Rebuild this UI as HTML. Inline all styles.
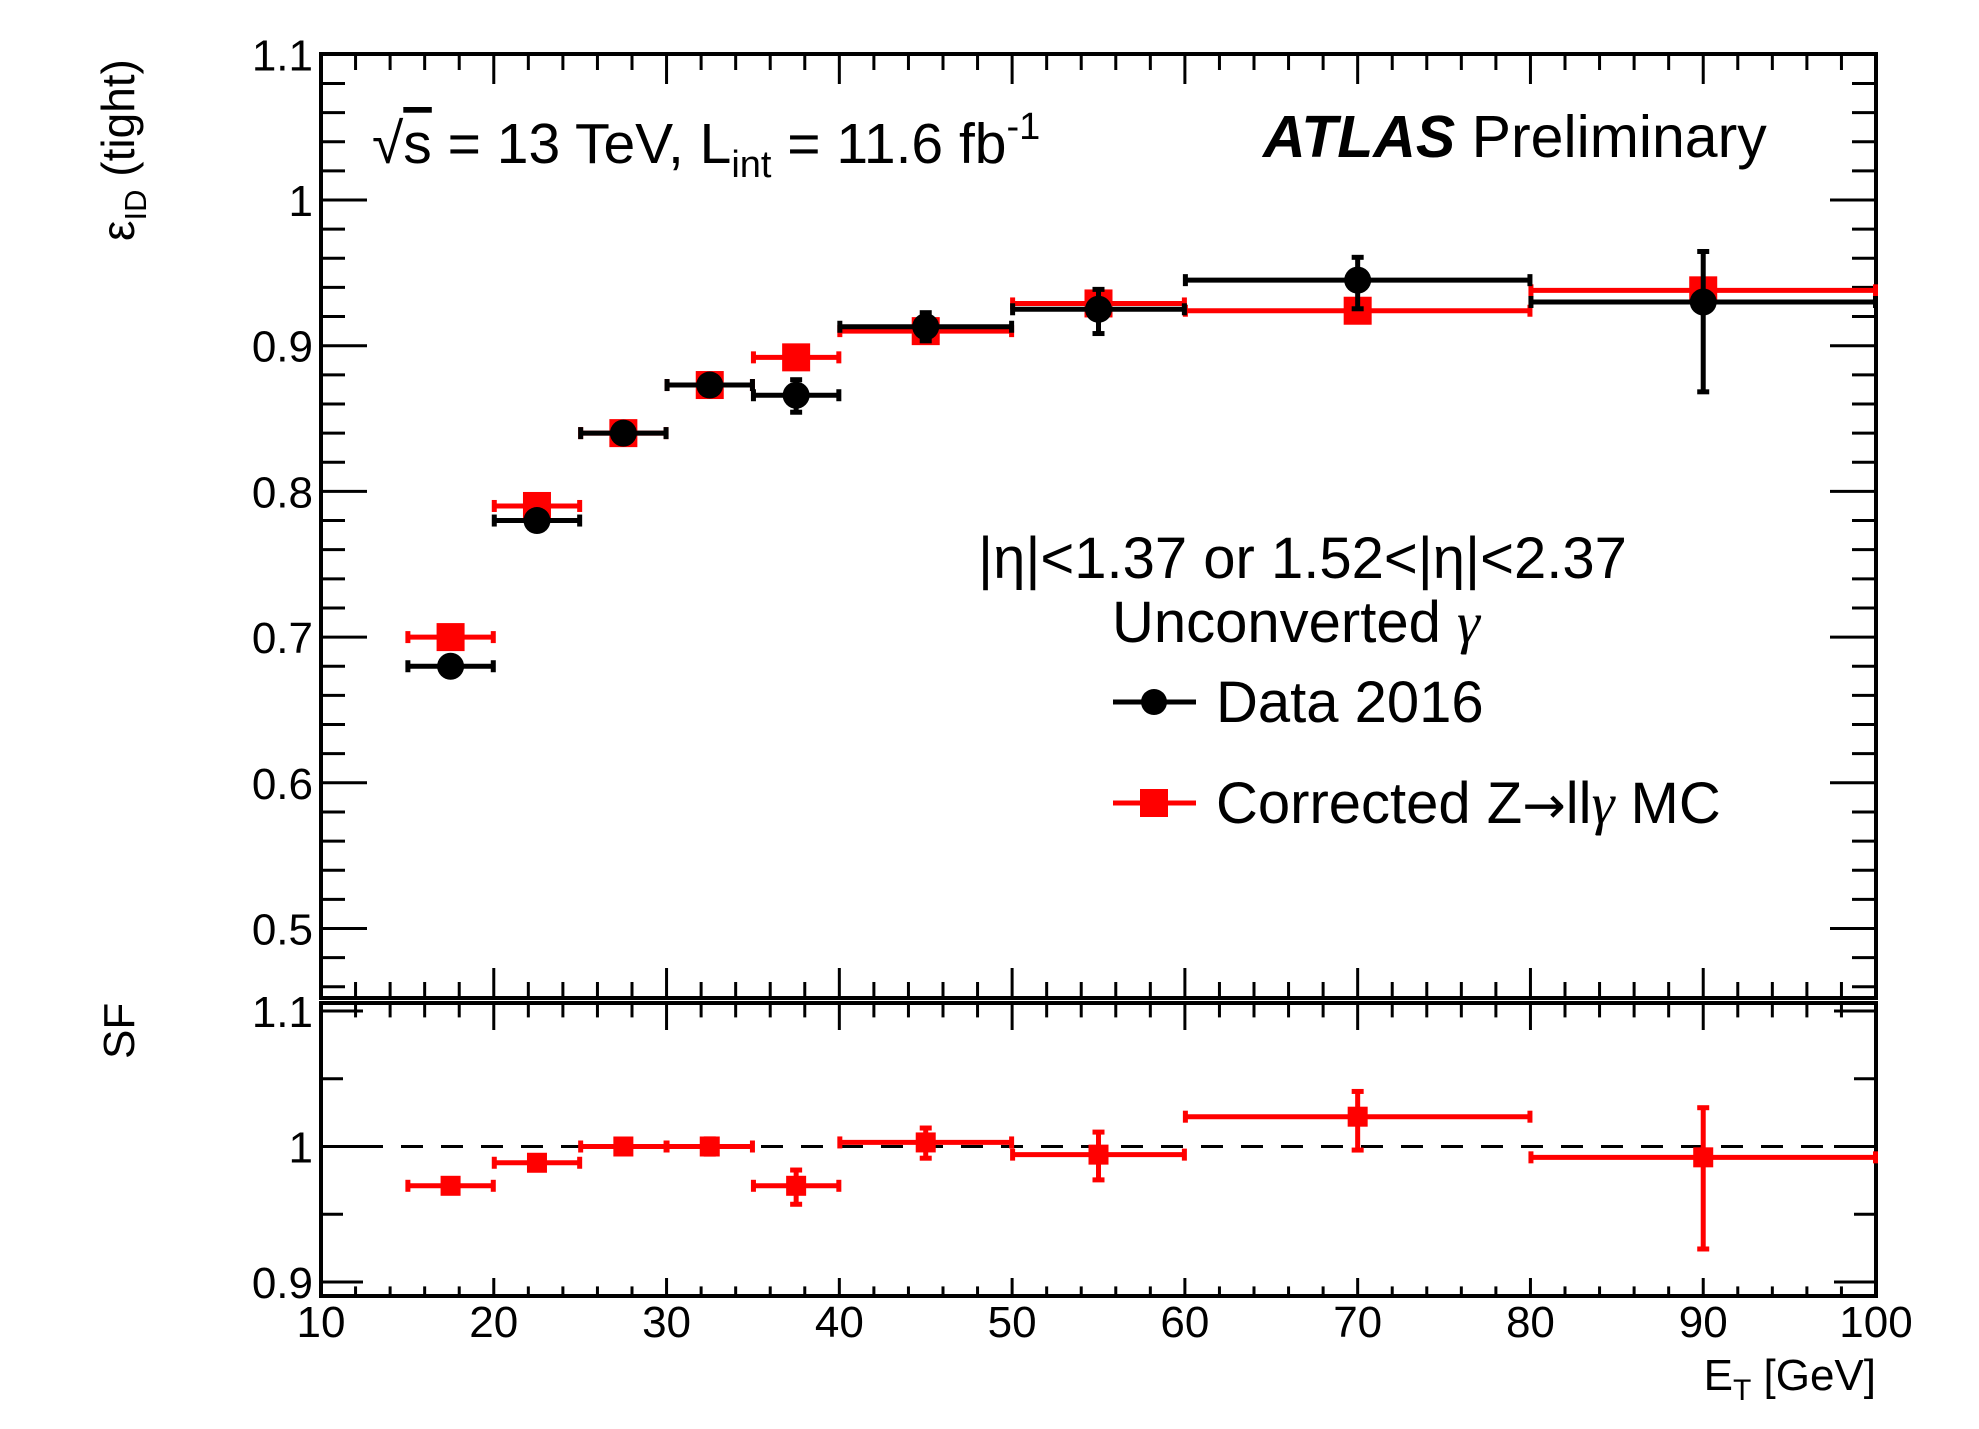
<!DOCTYPE html>
<html><head><meta charset="utf-8"><style>
html,body{margin:0;padding:0;background:#fff}
svg{display:block;font-family:"Liberation Sans",sans-serif}
</style></head><body>
<svg id="c" width="1979" height="1429" viewBox="0 0 1979 1429" xmlns="http://www.w3.org/2000/svg">
<g id="frames"></g>
<g id="marks"></g>
<g fill="#000">
<text x="372" y="163" font-size="57">√<tspan text-decoration="overline">s</tspan> = 13 TeV, L<tspan font-size="38" dy="14">int</tspan><tspan dy="-14"> = 11.6 fb</tspan><tspan font-size="38" dy="-24">-1</tspan></text>
<text x="1263" y="157" font-size="59"><tspan font-weight="bold" font-style="italic">ATLAS</tspan> Preliminary</text>
<text x="978" y="578" font-size="58">|η|&lt;1.37 or 1.52&lt;|η|&lt;2.37</text>
<text x="1112" y="642" font-size="58">Unconverted <tspan font-family="Liberation Serif" font-style="italic">γ</tspan></text>
<text x="1216" y="722" font-size="58">Data 2016</text>
<text x="1216" y="823" font-size="58">Corrected Z<tspan font-family="DejaVu Sans" font-size="52">→</tspan>l<tspan>l</tspan><tspan font-family="Liberation Serif" font-style="italic">γ</tspan> MC</text>
<text transform="translate(134,241) rotate(-90)" font-size="46">ε<tspan font-size="31" dy="12">ID</tspan><tspan dy="-12"> (tight)</tspan></text>
<text transform="translate(134,1059) rotate(-90)" font-size="44">SF</text>
<text x="1876" y="1390" font-size="44" text-anchor="end">E<tspan font-size="30" dy="10">T</tspan><tspan dy="-10"> [GeV]</tspan></text>
</g>
<g>
<line x1="1113" y1="702" x2="1196" y2="702" stroke="#000" stroke-width="5"/>
<circle cx="1154" cy="702" r="13" fill="#000"/>
<line x1="1113" y1="803" x2="1196" y2="803" stroke="#f00" stroke-width="5"/>
<rect x="1140" y="789" width="28" height="28" fill="#f00"/>
</g>
</svg>
<script>
const binLo=[15,20,25,30,35,40,50,60,80];
const binHi=[20,25,30,35,40,50,60,80,100];
const dataEff=[0.680,0.780,0.840,0.873,0.866,0.913,0.925,0.945,0.930];
const dataErrUp=[0.003,0.003,0.003,0.004,0.011,0.010,0.014,0.016,0.035];
const dataErrDn=[0.003,0.003,0.003,0.004,0.012,0.010,0.017,0.020,0.062];
const mcEff=[0.700,0.790,0.840,0.873,0.892,0.910,0.929,0.924,0.938];
const mcErr=[0.002,0.002,0.002,0.002,0.003,0.003,0.003,0.003,0.004];
const sf=[0.971,0.988,1.000,1.000,0.971,1.003,0.994,1.022,0.992];
const sfErrUp=[0.002,0.003,0.003,0.006,0.012,0.011,0.017,0.019,0.037];
const sfErrDn=[0.002,0.003,0.003,0.006,0.014,0.012,0.019,0.025,0.068];
const xTicks=[10,20,30,40,50,60,70,80,90,100];
const yTicksTop=["0.5","0.6","0.7","0.8","0.9","1","1.1"];
const yTicksBot=["0.9","1","1.1"];

const NS="http://www.w3.org/2000/svg";
const X0=321,X1=1876;
const fx=v=>X0+(v-10)/90*(X1-X0);
const TY0=54,TY1=998;
const fyT=v=>200-(v-1.0)*1457;
const BY0=1003,BY1=1296;
const fyB=v=>1146.5-(v-1.0)*1355;
const frames=document.getElementById('frames'),marks=document.getElementById('marks');
function el(tag,attrs,parent){const e=document.createElementNS(NS,tag);for(const k in attrs)e.setAttribute(k,attrs[k]);parent.appendChild(e);return e;}
function line(x1,y1,x2,y2,stroke,w,parent,dash){const l=el('line',{x1,y1,x2,y2,stroke,'stroke-width':w},parent);if(dash)l.setAttribute('stroke-dasharray',dash);return l;}

[[TY0,TY1,'upper-pad-frame'],[BY0,BY1,'lower-pad-frame']].forEach(([a,b,n])=>{
  const r=el('rect',{x:X0,y:a,width:X1-X0,height:b-a,fill:'none',stroke:'#000','stroke-width':4},frames);
  
  
});
for(let v=10;v<=100;v+=2){
  const major=(v%10===0),len=major?30:16,x=fx(v);
  line(x,TY0,x,TY0+len,'#000',3,frames);
  line(x,TY1,x,TY1-len,'#000',3,frames);
  line(x,BY0,x,BY0+len*0.9,'#000',3,frames);
  line(x,BY1,x,BY1-len*0.6,'#000',3,frames);
}
for(let i=0;i<=32;i++){
  const v=0.46+i*0.02;const y=fyT(v);if(y<TY0||y>TY1)continue;
  const major=Math.abs((v*10)-Math.round(v*10))<1e-6,len=major?46:24;
  line(X0,y,X0+len,y,'#000',3,frames);line(X1,y,X1-len,y,'#000',3,frames);
}
[0.9,0.95,1.0,1.05,1.1].forEach(v=>{const y=fyB(v);const major=Math.abs(v*10-Math.round(v*10))<1e-6;const len=major?42:22;
  line(X0,y,X0+len,y,'#000',3,frames);line(X1,y,X1-len,y,'#000',3,frames);});
xTicks.forEach(v=>{const t=el('text',{x:fx(v),y:1337,'font-size':44,'text-anchor':'middle'},frames);t.textContent=v;
  
  });
yTicksTop.forEach(s=>{const t=el('text',{x:X0-8,y:fyT(parseFloat(s))+16,'font-size':44,'text-anchor':'end'},frames);t.textContent=s;
  
  });
yTicksBot.forEach(s=>{const t=el('text',{x:X0-8,y:fyB(parseFloat(s))+16,'font-size':44,'text-anchor':'end'},frames);t.textContent=s;
  
  });
const ref=line(X0,fyB(1),X1,fyB(1),'#000',3,frames,'22,18');



function errbar(i,val,eu,ed,fy,color,kind,name){
  const g=el('g',{},marks);
  
  
  const xl=fx(binLo[i]),xh=fx(binHi[i]),xc=fx((binLo[i]+binHi[i])/2),y=fy(val);
  line(xl,y,xh,y,color,5,g);
  el('rect',{x:xl-2,y:y-6,width:5,height:12,fill:color},g);
  el('rect',{x:xh-3,y:y-6,width:5,height:12,fill:color},g);
  const yu=fy(val+eu),yd=fy(val-ed);
  line(xc,yu,xc,yd,color,5,g);
  if(Math.abs(yd-yu)>16){el('rect',{x:xc-6,y:yu-2,width:12,height:5,fill:color},g);el('rect',{x:xc-6,y:yd-3,width:12,height:5,fill:color},g);}
  if(kind==='sq')el('rect',{x:xc-14,y:y-14,width:28,height:28,fill:color},g);
  else if(kind==='sqs')el('rect',{x:xc-10,y:y-10,width:20,height:20,fill:color},g);
  else el('circle',{cx:xc,cy:y,r:13.5,fill:color},g);
}
for(let i=0;i<binLo.length;i++)errbar(i,mcEff[i],mcErr[i],mcErr[i],fyT,'#f00','sq','mc-point');
for(let i=0;i<binLo.length;i++)errbar(i,dataEff[i],dataErrUp[i],dataErrDn[i],fyT,'#000','ci','data-point');
for(let i=0;i<binLo.length;i++)errbar(i,sf[i],sfErrUp[i],sfErrDn[i],fyB,'#f00','sqs','sf-point');
</script>
</body></html>
